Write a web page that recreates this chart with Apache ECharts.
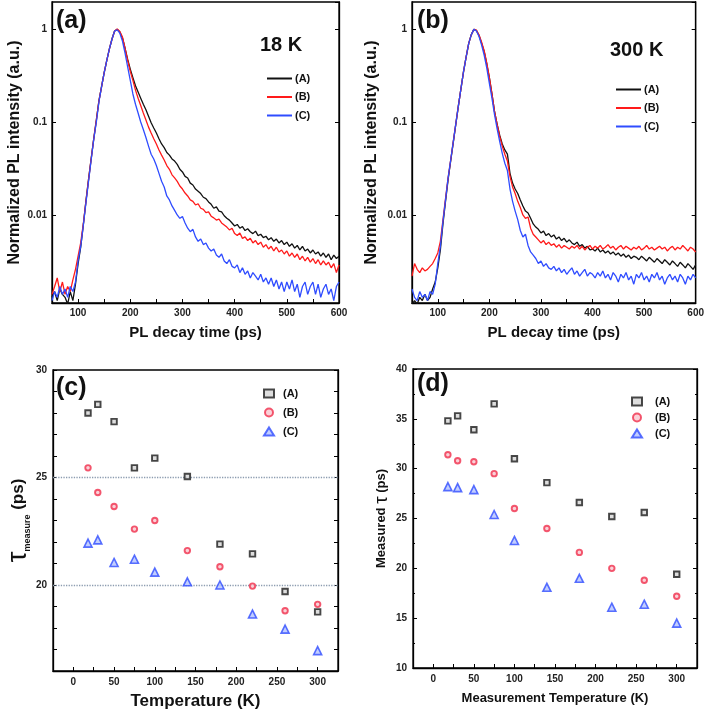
<!DOCTYPE html>
<html><head><meta charset="utf-8">
<script src="https://cdn.jsdelivr.net/npm/echarts@6/dist/echarts.min.js"></script>
<style>html,body{margin:0;padding:0;background:#fff}#c{width:707px;height:711px}</style>
</head><body><div id="c"></div>
<script>
// ---------- DATA ----------
const decayTime = [50,55,60,65,70,75,80,85,90,95,100,105,110,115,120,125,130,135,140,145,150,155,160,165,170,175,
180,185,190,195,200,205,210,215,220,225,230,235,240,245,250,255,260,265,270,275,280,285,290,295,300,305,310,315,320,325,
330,335,340,345,350,355,360,365,370,375,380,385,390,395,400,405,410,415,420,425,430,435,440,445,450,455,460,465,470,475,
480,485,490,495,500,505,510,515,520,525,530,535,540,545,550,555,560,565,570,575,580,585,590,595,600];

// (a) 18 K
const pl18A = [0.0013,0.0015,0.0012,0.0016,0.0014,0.0013,0.0011,0.0015,0.0012,0.0018,
0.0030,0.0045,0.0078,0.014,0.024,0.040,0.066,0.105,0.17,0.24,0.34,0.46,0.61,0.78,0.95,0.99,
0.93,0.80,0.62,0.47,0.37,0.30,0.245,0.21,0.18,0.155,0.135,0.115,0.098,0.086,0.076,0.066,0.058,0.053,0.047,0.044,
0.040,0.038,0.035,0.031,0.029,0.026,0.025,0.022,0.021,0.019,0.018,0.017,0.0155,0.015,0.0138,0.013,0.0118,0.0122,0.011,0.0108,
0.0098,0.0092,0.0088,0.0082,0.0076,
0.0079,0.0072,0.0075,0.0068,0.0071,0.0066,0.0063,0.0067,0.0060,0.0062,0.0057,0.0059,0.0054,0.0057,0.0052,0.0055,0.0050,0.0053,0.0048,0.0051,
0.0046,0.0049,0.0044,0.0047,0.0042,0.0046,0.0041,0.0043,0.0039,0.0042,0.0038,0.0040,0.0036,0.0039,0.0035,0.0038,0.0033,0.0037,0.0034,0.0036];
const pl18B = [0.0014,0.0017,0.0021,0.0015,0.0019,0.0014,0.0017,0.0015,0.0020,0.0026,
0.0036,0.0050,0.0080,0.014,0.024,0.040,0.066,0.105,0.17,0.24,0.34,0.46,0.61,0.78,0.95,1.0,
0.94,0.82,0.62,0.46,0.35,0.28,0.22,0.18,0.15,0.125,0.105,0.088,0.076,0.066,0.058,0.050,0.044,0.039,0.034,0.031,
0.027,0.025,0.023,0.0205,0.019,0.0172,0.0160,0.0145,0.0140,0.0128,0.0132,0.0118,0.0115,0.0106,0.0108,0.0097,0.0093,0.0088,0.0090,0.0082,
0.0078,0.0074,0.0069,0.0072,0.0063,
0.0060,0.0064,0.0056,0.0058,0.0053,0.0056,0.0050,0.0053,0.0048,0.0051,0.0045,0.0048,0.0043,0.0046,0.0041,0.0045,0.0040,0.0042,0.0038,0.0041,
0.0036,0.0039,0.0035,0.0038,0.0033,0.0036,0.0032,0.0035,0.0031,0.0034,0.0030,0.0033,0.0029,0.0032,0.0029,0.0031,0.0027,0.0030,0.0024,0.0029];
const pl18C = [0.0012,0.0015,0.0013,0.0017,0.0014,0.0016,0.0013,0.0017,0.0015,0.0019,
0.0032,0.0046,0.0077,0.0135,0.023,0.039,0.065,0.10,0.165,0.24,0.34,0.46,0.61,0.78,0.95,0.98,
0.90,0.74,0.55,0.39,0.28,0.20,0.155,0.125,0.10,0.083,0.068,0.055,0.045,0.040,0.034,0.028,0.023,0.020,0.016,0.0145,
0.0125,0.0112,0.0100,0.0092,0.0096,0.0082,0.0072,0.0066,0.0070,0.0058,0.0052,0.0055,0.0048,0.0050,0.0044,0.0041,0.0043,0.0037,0.0035,0.0038,
0.0032,0.0030,0.0033,0.0028,0.0027,
0.0029,0.0024,0.0027,0.0023,0.0025,0.0021,0.0024,0.0022,0.0020,0.0023,0.0019,0.0021,0.0018,0.0021,0.0017,0.0020,0.0016,0.0019,0.0015,0.0019,
0.0016,0.0020,0.0015,0.0018,0.0013,0.0017,0.0019,0.0014,0.0017,0.0019,0.0014,0.0018,0.0013,0.0016,0.0018,0.0014,0.0016,0.0012,0.0017,0.0019];

// (b) 300 K
const pl300A = [0.0011,0.0012,0.0011,0.0013,0.0012,0.0014,0.0012,0.0013,0.0016,0.0019,
0.0027,0.0042,0.0080,0.014,0.024,0.038,0.060,0.095,0.15,0.23,0.35,0.50,0.70,0.87,0.99,0.96,
0.85,0.70,0.57,0.42,0.30,0.20,0.13,0.095,0.072,0.058,0.050,0.045,0.028,0.022,0.019,0.017,0.0145,0.0125,0.011,0.0105,
0.0092,0.0080,0.0074,0.0070,0.0064,0.0067,0.0060,0.0063,0.0058,0.0061,0.0055,0.0058,0.0053,0.0056,0.0051,0.0054,0.0050,0.0048,0.0051,0.0046,
0.0048,0.0044,0.0046,0.0042,0.0043,
0.0041,0.0044,0.0040,0.0042,0.0039,0.0041,0.0038,0.0040,0.0037,0.0039,0.0036,0.0038,0.0035,0.0037,0.0034,0.0036,0.0035,0.0033,0.0036,0.0034,
0.0032,0.0035,0.0033,0.0031,0.0034,0.0032,0.0030,0.0033,0.0031,0.0029,0.0032,0.0030,0.0028,0.0031,0.0029,0.0027,0.0030,0.0028,0.0026,0.0029];
const pl300B = [0.0022,0.0030,0.0026,0.0024,0.0027,0.0025,0.0026,0.0028,0.0030,0.0034,
0.0039,0.0052,0.0088,0.0150,0.025,0.039,0.061,0.096,0.15,0.23,0.35,0.50,0.70,0.87,0.99,0.97,
0.86,0.72,0.58,0.43,0.30,0.20,0.13,0.094,0.070,0.055,0.045,0.038,0.026,0.020,0.017,0.014,0.012,0.0100,0.0092,0.0095,
0.0072,0.0062,0.0058,0.0054,0.0050,0.0053,0.0048,0.0051,0.0047,0.0049,0.0045,0.0048,0.0044,0.0047,0.0045,0.0043,0.0046,0.0044,0.0047,0.0043,
0.0046,0.0042,0.0045,0.0047,0.0043,
0.0046,0.0044,0.0047,0.0043,0.0045,0.0048,0.0044,0.0046,0.0042,0.0045,0.0047,0.0043,0.0046,0.0044,0.0042,0.0045,0.0043,0.0046,0.0042,0.0044,
0.0047,0.0043,0.0045,0.0042,0.0044,0.0046,0.0043,0.0045,0.0041,0.0044,0.0046,0.0042,0.0045,0.0043,0.0047,0.0044,0.0041,0.0045,0.0043,0.0040];
const pl300C = [0.0016,0.0013,0.0012,0.0015,0.0013,0.0014,0.0012,0.0015,0.0014,0.0018,
0.0030,0.0046,0.0085,0.0145,0.025,0.039,0.061,0.096,0.15,0.23,0.35,0.50,0.70,0.87,0.99,0.95,
0.83,0.67,0.52,0.38,0.26,0.18,0.12,0.085,0.062,0.046,0.036,0.030,0.019,0.014,0.011,0.0089,0.0068,0.0058,0.0062,0.0047,
0.0040,0.0037,0.0034,0.0030,0.0032,0.0028,0.0030,0.0027,0.0026,0.0028,0.0025,0.0027,0.0024,0.0026,0.0023,0.0025,0.0027,0.0023,0.0025,0.0022,
0.0024,0.0026,0.0022,0.0024,0.0023,
0.0021,0.0024,0.0022,0.0025,0.0021,0.0023,0.0020,0.0024,0.0022,0.0019,0.0023,0.0021,0.0024,0.0020,0.0022,0.0018,0.0023,0.0021,0.0024,0.0020,
0.0022,0.0019,0.0023,0.0021,0.0024,0.0020,0.0022,0.0018,0.0021,0.0023,0.0020,0.0022,0.0019,0.0023,0.0021,0.0018,0.0022,0.0020,0.0023,0.0021];

// (c), (d) lifetimes vs temperature
const temps = [18,30,50,75,100,140,180,220,260,300];
const tauC_A = [28.0,28.4,27.6,25.45,25.9,25.05,21.9,21.45,19.7,18.75];
const tauC_B = [25.45,24.3,23.65,22.6,23.0,21.6,20.85,19.95,18.8,19.1];
const tauC_C = [21.95,22.1,21.05,21.2,20.6,20.15,20.0,18.65,17.95,16.95];
const tauD_A = [34.8,35.3,33.9,36.5,31.0,28.6,26.6,25.2,25.6,19.4];
const tauD_B = [31.4,30.8,30.7,29.5,26.0,24.0,21.6,20.0,18.8,17.2];
const tauD_C = [28.2,28.1,27.9,25.4,22.8,18.1,19.0,16.1,16.4,14.5];
const refLinesC = [20, 25];

const sampleNames = ['(A)','(B)','(C)'];
const panelLabels = ['(a)','(b)','(c)','(d)'];
const tempLabels = ['18 K','300 K'];

// ---------- CHART ----------
const FONT = '"Liberation Sans", Arial, sans-serif';
const lineColors = ['#111111','#ff1a1a','#2f4cff'];
const chart = echarts.init(document.getElementById('c'), null, {renderer:'canvas'});

const pad = ['', ' ', '  ', '   '];
const nm = (p, i) => sampleNames[i] + pad[p];

const grids = [
  {left:52, right:368, top:2, bottom:408},
  {left:412, right:10, top:2, bottom:408},
  {left:53, right:369, top:370, bottom:40},
  {left:413, right:10, top:369, bottom:43}
].map(g => Object.assign({show:true, borderColor:'#000', borderWidth:1.3, backgroundColor:'transparent'}, g));

const lblStyle = {fontFamily:FONT, fontWeight:'bold', fontSize:10, color:'#222'};
const tickIn = {show:true, inside:true, length:4, lineStyle:{color:'#000', width:1}};
const axLine = {show:true, onZero:false, lineStyle:{color:'#000', width:1.3}};

function decayX(gi){
  return {type:'value', gridIndex:gi, min:50, max:600, interval:50,
    axisLine:axLine, axisTick:tickIn, splitLine:{show:false},
    axisLabel:Object.assign({margin:5, formatter:v => (v % 100 === 0 ? String(v) : '')}, lblStyle),
    name:'PL decay time (ps)', nameLocation:'middle', nameGap:22,
    nameTextStyle:{fontFamily:FONT, fontWeight:'bold', fontSize:15, color:'#111'}};
}
function logFmt(v){
  const k = Math.log10(v);
  const r = Math.round(k);
  if (Math.abs(k - r) < 1e-6 && r >= -2 && r <= 0) return String(Math.pow(10, r));
  return '';
}
function decayY(gi, gap, right){
  const o = {type:'log', logBase:10, gridIndex:gi, min:0.00113, max:1.95,
    position: right ? 'right' : 'left',
    axisLine:axLine, axisTick:tickIn, splitLine:{show:false},
    axisLabel: right ? {show:false} : Object.assign({margin:5, formatter:logFmt, showMinLabel:false, showMaxLabel:false}, lblStyle)};
  if (!right) {
    o.name = 'Normalized PL intensity (a.u.)'; o.nameLocation='middle'; o.nameGap=gap;
    o.nameTextStyle = {fontFamily:FONT, fontWeight:'bold', fontSize:16, color:'#111'};
  }
  return o;
}
function tempX(gi, name, size, gap){
  return {type:'value', gridIndex:gi, min:-25, max:325, interval:25,
    axisLine:axLine, axisTick:tickIn, splitLine:{show:false},
    axisLabel:Object.assign({margin:6, formatter:v => (v % 50 === 0 ? String(v) : '')}, lblStyle),
    name:name, nameLocation:'middle', nameGap:gap,
    nameTextStyle:{fontFamily:FONT, fontWeight:'bold', fontSize:size, color:'#111'}};
}

const xAxes = [decayX(0), decayX(1),
  tempX(2, 'Temperature (K)', 17, 22),
  tempX(3, 'Measurement Temperature (K)', 13, 24)];

const yAxes = [
  decayY(0, 29, false), decayY(1, 32, false),
  {type:'value', gridIndex:2, min:16, max:30, interval:1,
    axisLine:axLine, axisTick:tickIn, splitLine:{show:false},
    axisLabel:Object.assign({margin:6, formatter:v => (v % 5 === 0 ? String(v) : '')}, lblStyle),
    name:'{t|τ}{s|measure}{p| (ps)}', nameLocation:'middle', nameGap:19,
    nameTextStyle:{rich:{
      t:{fontFamily:FONT, fontSize:27, color:'#111'},
      s:{fontFamily:FONT, fontSize:9, fontWeight:'bold', color:'#111', verticalAlign:'bottom'},
      p:{fontFamily:FONT, fontSize:17, fontWeight:'bold', color:'#111'}}}},
  {type:'value', gridIndex:3, min:10, max:40, interval:5,
    axisLine:axLine, axisTick:tickIn, minorTick:{show:true, splitNumber:2, length:2, lineStyle:{color:'#000'}},
    splitLine:{show:false},
    axisLabel:Object.assign({margin:6}, lblStyle),
    name:'{a|Measured }{t|τ}{a| (ps)}', nameLocation:'middle', nameGap:22,
    nameTextStyle:{rich:{
      a:{fontFamily:FONT, fontSize:13, fontWeight:'bold', color:'#111'},
      t:{fontFamily:FONT, fontSize:19, color:'#111'}}}},
  // right-hand mirror axes (ticks only)
  decayY(0, 0, true), decayY(1, 0, true),
  {type:'value', gridIndex:2, min:16, max:30, interval:1, position:'right',
    axisLine:axLine, axisTick:tickIn, axisLabel:{show:false}, splitLine:{show:false}},
  {type:'value', gridIndex:3, min:10, max:40, interval:5, position:'right',
    axisLine:axLine, axisTick:tickIn, minorTick:{show:true, splitNumber:2, length:2, lineStyle:{color:'#000'}},
    axisLabel:{show:false}, splitLine:{show:false}}
];

const series = [];
const decaySets = [[pl18A, pl18B, pl18C], [pl300A, pl300B, pl300C]];
decaySets.forEach((set, p) => {
  set.forEach((vals, i) => {
    series.push({type:'line', name:nm(p, i), xAxisIndex:p, yAxisIndex:p,
      data: decayTime.map((t, k) => [t, vals[k]]),
      symbol:'none', showSymbol:false, smooth:false, clip:true, animation:false,
      lineStyle:{color:lineColors[i], width:1.3}, itemStyle:{color:lineColors[i]}});
  });
});
const markerStyles = [
  {symbol:'rect', size:5.5, itemStyle:{color:'#d6d6d6', borderColor:'#1c1c1c', borderWidth:1.9}},
  {symbol:'circle', size:5.5, itemStyle:{color:'#f9c6ce', borderColor:'#f0304c', borderWidth:1.9}},
  {symbol:'triangle', size:8, itemStyle:{color:'#b3c2ff', borderColor:'#2f4cff', borderWidth:1.6}}
];
const tauSets = [[tauC_A, tauC_B, tauC_C], [tauD_A, tauD_B, tauD_C]];
tauSets.forEach((set, q) => {
  const p = q + 2;
  set.forEach((vals, i) => {
    const s = {type:'scatter', name:nm(p, i), xAxisIndex:p, yAxisIndex:p,
      data: temps.map((t, k) => [t, vals[k]]),
      symbol:markerStyles[i].symbol, symbolSize:markerStyles[i].size,
      itemStyle:markerStyles[i].itemStyle, animation:false, z:3};
    if (p === 2 && i === 0) {
      s.markLine = {silent:true, symbol:['none','none'], label:{show:false}, animation:false,
        lineStyle:{type:'dotted', color:'#8c9cb0', width:1.3},
        data: refLinesC.map(v => ({yAxis:v})), z:1};
    }
    series.push(s);
  });
});

const legTxt = {fontFamily:FONT, fontWeight:'bold', fontSize:11, color:'#111'};
function lineLegend(p, left, top){
  return {orient:'vertical', left:left, top:top, itemWidth:25, itemHeight:2, itemGap:7.5,
    data: sampleNames.map((_, i) => ({name:nm(p, i), icon:'rect'})), formatter: n => n.trim(),
    textStyle:Object.assign({padding:[0,0,0,-2]}, legTxt), selectedMode:false, padding:0};
}
function markLegend(p, left, top, gap, txtPad){
  return {orient:'vertical', left:left, top:top, itemWidth:10, itemHeight:8, itemGap:gap,
    data: sampleNames.map((_, i) => nm(p, i)), formatter: n => n.trim(),
    textStyle:Object.assign({padding:[0,0,0,txtPad]}, legTxt), selectedMode:false, padding:0};
}

const panelPos = [[56, 9], [417, 9], [56, 376], [417, 372]];
const tempPos = [[260, 35], [610, 40]];
const graphics = [];
panelLabels.forEach((t, i) => graphics.push({type:'text', left:panelPos[i][0], top:panelPos[i][1],
  style:{text:t, font:'bold 25px ' + FONT, fill:'#111'}}));
tempLabels.forEach((t, i) => graphics.push({type:'text', left:tempPos[i][0], top:tempPos[i][1],
  style:{text:t, font:'bold 20px ' + FONT, fill:'#111'}}));

chart.setOption({
  animation:false,
  backgroundColor:'#fff',
  grid:grids, xAxis:xAxes, yAxis:yAxes, series:series,
  legend:[lineLegend(0, 267, 73), lineLegend(1, 616, 84),
          markLegend(2, 263, 388, 8, 4), markLegend(3, 631, 396, 5, 8)],
  graphic:graphics
});
</script></body></html>
